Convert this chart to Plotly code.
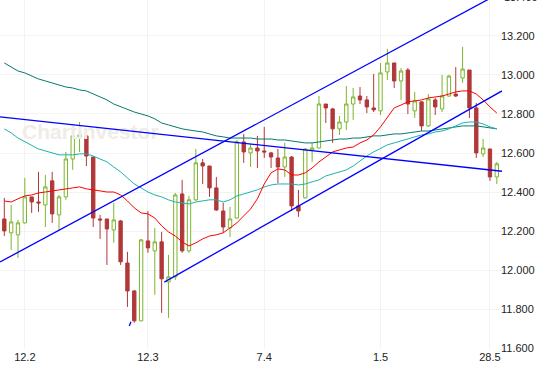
import plotly.graph_objects as go

# ---- data ----
opens = [12.263, 12.192, 12.182, 12.243, 12.376, 12.350, 12.335, 12.458, 12.284, 12.376,
         12.570, 12.683, 12.688, 12.580, 12.263, 12.263, 12.207, 12.253, 12.038, 11.895,
         11.742, 12.151, 12.100, 12.146, 11.941, 11.967, 12.391, 12.100, 12.361, 12.550,
         12.534, 12.422, 12.304, 12.217, 12.268, 12.657, 12.601, 12.626, 12.611, 12.601,
         12.575, 12.529, 12.580, 12.330, 12.371, 12.616, 12.626, 12.851, 12.826, 12.724,
         12.759, 12.851, 12.892, 12.872, 12.831, 12.816, 13.015, 13.061, 12.969, 13.025,
         12.816, 12.862, 12.739, 12.872, 12.826, 12.892, 12.902, 12.984, 13.025, 12.831,
         12.596, 12.621, 12.478]
highs = [12.371, 12.335, 12.258, 12.473, 12.376, 12.504, 12.488, 12.504, 12.386, 12.606,
         12.734, 12.759, 12.688, 12.580, 12.284, 12.263, 12.345, 12.258, 12.095, 11.900,
         12.161, 12.304, 12.217, 12.197, 12.079, 12.396, 12.463, 12.381, 12.621, 12.570,
         12.534, 12.478, 12.345, 12.325, 12.667, 12.698, 12.647, 12.688, 12.734, 12.606,
         12.621, 12.652, 12.585, 12.412, 12.626, 12.652, 12.892, 12.851, 12.831, 12.790,
         12.943, 12.933, 12.938, 12.892, 13.005, 13.061, 13.133, 13.061, 13.035, 13.035,
         12.913, 12.862, 12.902, 12.882, 13.000, 13.000, 13.040, 13.143, 13.025, 12.856,
         12.672, 12.621, 12.555]
lows = [12.176, 12.105, 12.064, 12.240, 12.294, 12.299, 12.222, 12.243, 12.207, 12.361,
        12.514, 12.606, 12.534, 12.222, 12.161, 12.028, 12.141, 12.028, 11.813, 11.732,
        11.740, 12.090, 11.875, 11.783, 11.757, 11.951, 12.090, 12.090, 12.355, 12.442,
        12.376, 12.304, 12.192, 12.171, 12.265, 12.550, 12.529, 12.524, 12.575, 12.524,
        12.447, 12.478, 12.304, 12.274, 12.368, 12.555, 12.624, 12.754, 12.652, 12.693,
        12.718, 12.770, 12.851, 12.805, 12.810, 12.795, 12.974, 12.933, 12.872, 12.800,
        12.780, 12.713, 12.735, 12.795, 12.810, 12.887, 12.887, 12.959, 12.780, 12.575,
        12.580, 12.458, 12.442]
closes = [12.202, 12.248, 12.243, 12.376, 12.350, 12.345, 12.427, 12.289, 12.376, 12.570,
          12.688, 12.693, 12.585, 12.268, 12.258, 12.212, 12.258, 12.044, 11.895, 11.742,
          12.156, 12.115, 12.146, 11.957, 11.967, 12.386, 12.100, 12.361, 12.550, 12.534,
          12.422, 12.309, 12.222, 12.263, 12.657, 12.606, 12.626, 12.611, 12.606, 12.580,
          12.529, 12.580, 12.330, 12.304, 12.621, 12.626, 12.851, 12.831, 12.724, 12.759,
          12.851, 12.887, 12.872, 12.836, 12.821, 13.010, 13.061, 12.969, 13.020, 12.851,
          12.867, 12.739, 12.877, 12.836, 12.892, 12.994, 12.892, 13.030, 12.831, 12.601,
          12.626, 12.478, 12.545]

ma_short = [12.355, 12.350, 12.366, 12.381, 12.386, 12.396, 12.401, 12.407, 12.412, 12.417,
            12.422, 12.427, 12.417, 12.412, 12.407, 12.401, 12.401, 12.386, 12.355, 12.320,
            12.294, 12.289, 12.268, 12.228, 12.197, 12.176, 12.146, 12.125, 12.141, 12.161,
            12.176, 12.182, 12.192, 12.217, 12.243, 12.279, 12.314, 12.366, 12.442, 12.499,
            12.519, 12.514, 12.488, 12.488, 12.499, 12.524, 12.555, 12.580, 12.606, 12.616,
            12.626, 12.631, 12.652, 12.667, 12.693, 12.734, 12.785, 12.831, 12.846, 12.862,
            12.867, 12.872, 12.882, 12.887, 12.892, 12.902, 12.913, 12.918, 12.918, 12.902,
            12.872, 12.836, 12.805]
ma_mid = [12.724, 12.703, 12.677, 12.657, 12.637, 12.621, 12.611, 12.601, 12.591, 12.591,
          12.591, 12.596, 12.596, 12.585, 12.570, 12.555, 12.529, 12.504, 12.473, 12.442,
          12.422, 12.401, 12.386, 12.376, 12.361, 12.350, 12.345, 12.340, 12.350, 12.355,
          12.361, 12.361, 12.350, 12.361, 12.381, 12.391, 12.401, 12.412, 12.427, 12.437,
          12.442, 12.442, 12.442, 12.437, 12.442, 12.453, 12.463, 12.483, 12.493, 12.504,
          12.514, 12.534, 12.560, 12.585, 12.606, 12.626, 12.642, 12.652, 12.662, 12.672,
          12.683, 12.693, 12.698, 12.708, 12.713, 12.724, 12.739, 12.754, 12.759, 12.759,
          12.749, 12.734, 12.724]
ma_long = [13.061, 13.040, 13.020, 13.010, 12.994, 12.979, 12.969, 12.959, 12.948, 12.938,
           12.933, 12.923, 12.918, 12.902, 12.887, 12.872, 12.851, 12.836, 12.821, 12.810,
           12.800, 12.790, 12.775, 12.754, 12.744, 12.734, 12.724, 12.718, 12.713, 12.708,
           12.698, 12.688, 12.683, 12.677, 12.677, 12.677, 12.677, 12.672, 12.672, 12.672,
           12.667, 12.667, 12.662, 12.657, 12.652, 12.652, 12.657, 12.662, 12.667, 12.672,
           12.672, 12.677, 12.677, 12.683, 12.688, 12.688, 12.693, 12.698, 12.698, 12.703,
           12.708, 12.713, 12.713, 12.718, 12.724, 12.729, 12.734, 12.739, 12.739, 12.739,
           12.734, 12.729, 12.724]

# trend lines: (start index, start price) -> (end index, end price)
trend_falling_x = [-0.63, 72.76]
trend_falling_y = [12.785, 12.507]
trend_upper_x = [-0.63, 72.76]
trend_upper_y = [12.043, 13.424]
trend_lower_x = [23.39, 72.76]
trend_lower_y = [11.940, 12.918]
trend_stub_x = [18.27, 18.52]
trend_stub_y = [11.716, 11.737]

tick_pos = [3, 21, 38, 55, 71]
tick_labels = ["12.2", "12.3", "7.4", "1.5", "28.5"]
price_ticks = [11.6, 11.8, 12.0, 12.2, 12.4, 12.6, 12.8, 13.0, 13.2]

x = list(range(len(opens)))

FONT = "Liberation Sans, Arial, sans-serif"
fig = go.Figure()

# watermark (drawn first, below everything)
fig.add_trace(go.Scatter(x=[2.6], y=[12.698], mode="text", text=["ChartInvestor"],
                         textposition="middle right",
                         textfont=dict(family=FONT, size=21, color="#f0ece6", weight="bold"),
                         hoverinfo="skip", showlegend=False, cliponaxis=False))

fig.add_trace(go.Candlestick(
    x=x, open=opens, high=highs, low=lows, close=closes,
    increasing=dict(line=dict(color="#7cb52e", width=1), fillcolor="white"),
    decreasing=dict(line=dict(color="#b13838", width=1), fillcolor="#b13838"),
    whiskerwidth=0, showlegend=False, hoverinfo="skip"))

for ys, col in [(ma_long, "#06796f"), (ma_mid, "#1db3ae"), (ma_short, "#ff0000")]:
    fig.add_trace(go.Scatter(x=x, y=ys, mode="lines", line=dict(color=col, width=1),
                             showlegend=False, hoverinfo="skip"))

for tx, ty in [(trend_falling_x, trend_falling_y), (trend_upper_x, trend_upper_y),
               (trend_lower_x, trend_lower_y), (trend_stub_x, trend_stub_y)]:
    fig.add_trace(go.Scatter(x=tx, y=ty, mode="lines", line=dict(color="#0000ff", width=1.3),
                             showlegend=False, hoverinfo="skip"))

# partially visible top price label (13.400 sits just above the plot top)
fig.add_annotation(text="13.400", xref="paper", x=1, xanchor="left", xshift=0,
                   yref="paper", y=1.0095, yanchor="middle", showarrow=False,
                   font=dict(family=FONT, size=11, color="#222"))

fig.update_layout(
    width=546, height=367,
    margin=dict(l=0, r=44, t=0, b=18, autoexpand=False),
    paper_bgcolor="white", plot_bgcolor="white",
    font=dict(family=FONT, size=11, color="#222"),
    hovermode=False,
    xaxis=dict(range=[-0.63, 72.76], tickvals=tick_pos, ticktext=tick_labels,
               showgrid=True, gridcolor="#f3f3f3", gridwidth=1, zeroline=False,
               showline=False, ticks="", rangeslider=dict(visible=False),
               automargin=False, ticklabelstandoff=0,
               tickfont=dict(family=FONT, size=11, color="#222")),
    yaxis=dict(range=[11.598, 13.383], side="right", tickvals=price_ticks,
               tickformat=".3f", showgrid=True, gridcolor="#f3f3f3", gridwidth=1,
               zeroline=False, showline=False, ticks="", automargin=False,
               ticklabelstandoff=-2,
               tickfont=dict(family=FONT, size=11, color="#222")),
)

fig.write_html("out.html", config={"displayModeBar": False},
               post_script="document.body.style.margin='0';document.body.style.overflow='hidden';")
